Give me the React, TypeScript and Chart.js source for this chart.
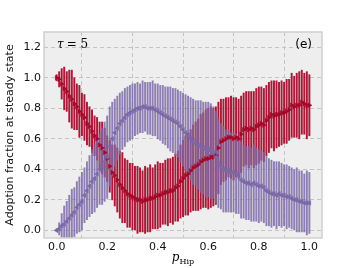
import React, { useEffect, useRef } from "react";
import { Chart, registerables } from "chart.js";

Chart.register(...registerables);

const pHip = [
  0.0, 0.01, 0.02, 0.03, 0.04, 0.05, 0.06, 0.07, 0.08, 0.09,
  0.1, 0.11, 0.12, 0.13, 0.14, 0.15, 0.16, 0.17, 0.18, 0.19,
  0.2, 0.21, 0.22, 0.23, 0.24, 0.25, 0.26, 0.27, 0.28, 0.29,
  0.3, 0.31, 0.32, 0.33, 0.34, 0.35, 0.36, 0.37, 0.38, 0.39,
  0.4, 0.41, 0.42, 0.43, 0.44, 0.45, 0.46, 0.47, 0.48, 0.49,
  0.5, 0.51, 0.52, 0.53, 0.54, 0.55, 0.56, 0.57, 0.58, 0.59,
  0.6, 0.61, 0.62, 0.63, 0.64, 0.65, 0.66, 0.67, 0.68, 0.69,
  0.7, 0.71, 0.72, 0.73, 0.74, 0.75, 0.76, 0.77, 0.78, 0.79,
  0.8, 0.81, 0.82, 0.83, 0.84, 0.85, 0.86, 0.87, 0.88, 0.89,
  0.9, 0.91, 0.92, 0.93, 0.94, 0.95, 0.96, 0.97, 0.98, 0.99,
  1.0,
];

const redMean = [
  1.0, 0.99, 0.96, 0.93, 0.91, 0.88, 0.86, 0.83, 0.81, 0.78,
  0.76, 0.74, 0.7, 0.68, 0.65, 0.62, 0.6, 0.56, 0.54, 0.51,
  0.47, 0.42, 0.38, 0.36, 0.33, 0.3, 0.28, 0.26, 0.24, 0.23,
  0.22, 0.21, 0.2, 0.2, 0.19, 0.2, 0.2, 0.21, 0.21, 0.22,
  0.23, 0.23, 0.24, 0.25, 0.25, 0.26, 0.26, 0.28, 0.29, 0.32,
  0.34, 0.36, 0.37, 0.39, 0.41, 0.42, 0.43, 0.45, 0.46, 0.47,
  0.47, 0.48, 0.48, 0.49, 0.54, 0.58, 0.59, 0.6, 0.61, 0.61,
  0.6, 0.61, 0.6, 0.63, 0.66, 0.67, 0.66, 0.67, 0.66, 0.68,
  0.69, 0.7, 0.69, 0.72, 0.74, 0.76, 0.75, 0.76, 0.76, 0.77,
  0.77, 0.78, 0.79, 0.82, 0.81, 0.82, 0.82, 0.84, 0.83, 0.82,
  0.82,
];

const redErr = [
  0.02, 0.05, 0.1, 0.14, 0.13, 0.17, 0.19, 0.17, 0.15, 0.17,
  0.14, 0.15, 0.14, 0.13, 0.14, 0.13, 0.14, 0.15, 0.17, 0.16,
  0.15, 0.17, 0.18, 0.2, 0.21, 0.22, 0.23, 0.21, 0.22, 0.21,
  0.22, 0.21, 0.22, 0.21, 0.2, 0.22, 0.21, 0.22, 0.2, 0.21,
  0.22, 0.21, 0.2, 0.21, 0.22, 0.21, 0.22, 0.22, 0.23, 0.24,
  0.25, 0.26, 0.27, 0.27, 0.28, 0.29, 0.3, 0.31, 0.31, 0.32,
  0.33, 0.33, 0.32, 0.32, 0.3, 0.28, 0.27, 0.27, 0.26, 0.27,
  0.27, 0.26, 0.26, 0.25, 0.24, 0.24, 0.25, 0.24, 0.25, 0.25,
  0.25, 0.24, 0.24, 0.23, 0.23, 0.22, 0.23, 0.22, 0.21, 0.21,
  0.2, 0.21, 0.2, 0.21, 0.2, 0.21, 0.22, 0.21, 0.2, 0.22,
  0.2,
];

const purpleMean = [
  0.0, 0.01, 0.03, 0.04, 0.06, 0.08, 0.1, 0.12, 0.15, 0.17,
  0.19, 0.23, 0.26, 0.29, 0.32, 0.34, 0.37, 0.4, 0.42, 0.45,
  0.48, 0.55, 0.6, 0.64, 0.67, 0.7, 0.72, 0.74, 0.76, 0.77,
  0.78, 0.79, 0.8, 0.8, 0.81, 0.81, 0.8, 0.8, 0.8, 0.79,
  0.78, 0.77, 0.76, 0.75, 0.74, 0.73, 0.72, 0.71, 0.7, 0.68,
  0.66, 0.64, 0.62, 0.6, 0.58, 0.57, 0.56, 0.55, 0.54, 0.53,
  0.53, 0.52, 0.51, 0.48, 0.44, 0.42, 0.4, 0.39, 0.39, 0.38,
  0.38, 0.37, 0.36, 0.33, 0.32, 0.31, 0.31, 0.3, 0.31, 0.3,
  0.29, 0.29, 0.28, 0.26, 0.25, 0.24, 0.24, 0.23, 0.24, 0.23,
  0.23, 0.22, 0.22, 0.21, 0.2, 0.2, 0.19, 0.19, 0.18, 0.18,
  0.18,
];

const purpleErr = [
  0.01, 0.04, 0.08, 0.12, 0.13, 0.15, 0.17, 0.16, 0.17, 0.18,
  0.19, 0.18, 0.19, 0.2, 0.21, 0.22, 0.22, 0.23, 0.25, 0.26,
  0.27, 0.26, 0.24, 0.22, 0.21, 0.2, 0.19, 0.19, 0.18, 0.18,
  0.18, 0.17, 0.17, 0.16, 0.17, 0.16, 0.17, 0.17, 0.18, 0.17,
  0.18, 0.18, 0.19, 0.19, 0.2, 0.21, 0.21, 0.22, 0.22, 0.23,
  0.24, 0.25, 0.26, 0.27, 0.28, 0.28, 0.29, 0.3, 0.3, 0.31,
  0.31, 0.31, 0.3, 0.3, 0.29, 0.28, 0.28, 0.27, 0.27, 0.26,
  0.26, 0.26, 0.25, 0.25, 0.24, 0.24, 0.24, 0.24, 0.25, 0.24,
  0.24, 0.23, 0.23, 0.23, 0.22, 0.22, 0.21, 0.22, 0.21, 0.21,
  0.2, 0.21, 0.2, 0.2, 0.2, 0.21, 0.2, 0.2, 0.19, 0.21,
  0.2,
];

const xTicks = [0.0, 0.2, 0.4, 0.6, 0.8, 1.0];
const yTicks = [0.0, 0.2, 0.4, 0.6, 0.8, 1.0, 1.2];

const RED = "#A60628";
const PURPLE = "#7A68A6";

const decorPlugin = {
  id: "decor",
  beforeDraw(chart: any) {
    const { ctx, chartArea } = chart;
    ctx.save();
    ctx.fillStyle = "#eeeeee";
    ctx.fillRect(chartArea.left, chartArea.top, chartArea.right - chartArea.left, chartArea.bottom - chartArea.top);
    ctx.restore();
  },
  afterDraw(chart: any) {
    const { ctx, chartArea } = chart;
    ctx.save();
    ctx.strokeStyle = "#d0d0d0";
    ctx.lineWidth = 1.5;
    ctx.strokeRect(chartArea.left, chartArea.top, chartArea.right - chartArea.left, chartArea.bottom - chartArea.top);

    ctx.fillStyle = "#000";
    ctx.textBaseline = "alphabetic";
    // tau label
    ctx.textAlign = "left";
    ctx.font = "italic 12px 'DejaVu Serif'";
    const tx = chartArea.left + 13;
    const ty = chartArea.top + 16;
    ctx.fillText("τ", tx, ty);
    const tw = ctx.measureText("τ").width;
    ctx.font = "12px 'DejaVu Serif'";
    ctx.fillText("= 5", tx + tw + 3, ty);
    // panel label
    ctx.textAlign = "right";
    ctx.font = "12px 'DejaVu Sans'";
    ctx.fillText("(e)", chartArea.right - 10, chartArea.top + 16);

    // x axis title p_Hip
    const cx = (chartArea.left + chartArea.right) / 2;
    ctx.textAlign = "left";
    ctx.font = "italic 12px 'DejaVu Serif'";
    const pw = ctx.measureText("p").width;
    ctx.font = "8px 'DejaVu Serif'";
    const sw = ctx.measureText("Hip").width;
    const x0 = cx - (pw + sw) / 2;
    ctx.font = "italic 12px 'DejaVu Serif'";
    ctx.fillText("p", x0, 260.5);
    ctx.font = "8px 'DejaVu Serif'";
    ctx.fillText("Hip", x0 + pw, 263.5);
    ctx.restore();
  },
};

export default function App() {
  const canvasRef = useRef<HTMLCanvasElement | null>(null);

  useEffect(() => {
    const canvas = canvasRef.current;
    if (!canvas) return;

    const redBars = pHip.map((x, i) => ({ x, y: [redMean[i] - redErr[i], redMean[i] + redErr[i]] }));
    const purpleBars = pHip.map((x, i) => ({ x, y: [purpleMean[i] - purpleErr[i], purpleMean[i] + purpleErr[i]] }));
    const redPts = pHip.map((x, i) => ({ x, y: redMean[i] }));
    const purplePts = pHip.map((x, i) => ({ x, y: purpleMean[i] }));

    const chart = new Chart(canvas, {
      type: "scatter",
      data: {
        datasets: [
          {
            type: "bar",
            data: redBars as any,
            backgroundColor: "rgba(166,6,40,0.92)",
            borderWidth: 0,
            barThickness: 1.3,
            grouped: false,
            order: 4,
          } as any,
          {
            type: "bar",
            data: purpleBars as any,
            backgroundColor: "rgba(122,104,166,0.82)",
            borderWidth: 0,
            barThickness: 1.3,
            grouped: false,
            order: 3,
          } as any,
          {
            type: "scatter",
            data: redPts,
            pointStyle: "triangle",
            rotation: 90,
            radius: 2.6,
            backgroundColor: RED,
            borderColor: RED,
            borderWidth: 0.5,
            order: 2,
          } as any,
          {
            type: "scatter",
            data: purplePts,
            pointStyle: "triangle",
            rotation: -90,
            radius: 2.6,
            backgroundColor: PURPLE,
            borderColor: PURPLE,
            borderWidth: 0.5,
            order: 1,
          } as any,
        ],
      },
      options: {
        animation: false,
        responsive: false,
        events: [],
        layout: { padding: { top: 32, right: 35, left: 0, bottom: 0 } },
        plugins: { legend: { display: false }, tooltip: { enabled: false } },
        scales: {
          x: {
            type: "linear",
            min: -0.05,
            max: 1.05,
            offset: false,
            afterBuildTicks: (s: any) => {
              s.ticks = xTicks.map((v) => ({ value: v }));
            },
            afterFit: (s: any) => {
              s.height = 30;
            },
            grid: { color: "#c4c4c4", lineWidth: 1, drawTicks: false },
            border: { display: false, dash: [4, 3] },
            ticks: {
              padding: 3,
              color: "#111",
              font: { family: "'DejaVu Sans'", size: 11 },
              callback: (v: any) => Number(v).toFixed(1),
              maxRotation: 0,
            },
          },
          y: {
            type: "linear",
            min: -0.05,
            max: 1.3,
            afterBuildTicks: (s: any) => {
              s.ticks = yTicks.map((v) => ({ value: v }));
            },
            afterFit: (s: any) => {
              s.width = 44;
            },
            grid: { color: "#c4c4c4", lineWidth: 1, drawTicks: false },
            border: { display: false, dash: [4, 3] },
            title: {
              display: true,
              text: "Adoption fraction at steady state",
              color: "#111",
              font: { family: "'DejaVu Sans'", size: 11 },
              padding: { top: 4, bottom: 2 },
            },
            ticks: {
              padding: 3,
              color: "#111",
              font: { family: "'DejaVu Sans'", size: 11 },
              callback: (v: any) => Number(v).toFixed(1),
            },
          },
        },
      },
      plugins: [decorPlugin],
    } as any);

    return () => chart.destroy();
  }, []);

  return (
    <div style={{ position: "fixed", left: 0, top: 0, width: 357, height: 268, background: "#fff" }}>
      <canvas ref={canvasRef} width={357} height={268} style={{ display: "block", width: 357, height: 268 }} />
    </div>
  );
}
